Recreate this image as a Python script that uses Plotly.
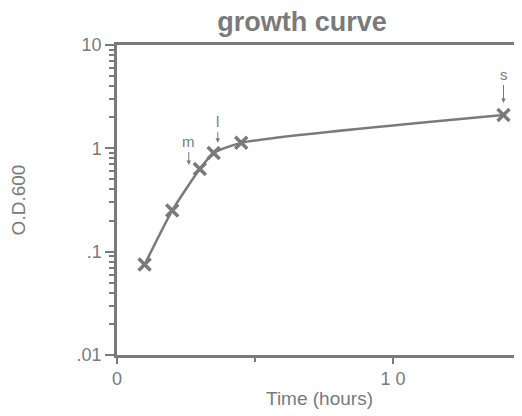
import numpy as np
import plotly.graph_objects as go

time_h = [1, 2, 3, 3.5, 4.5, 14]
od600 = [0.075, 0.25, 0.63, 0.90, 1.13, 2.1]

arrow_labels = ["m", "l", "s"]
arrow_x = [2.6, 3.65, 14]
arrow_y = [0.69, 1.13, 2.75]
arrow_len = [-23, -21, -28]

y_major = [0.01, 0.1, 1, 10]
y_major_text = [".01", ".1", "1", "10"]
y_minor = [m * d for d in [0.01, 0.1, 1] for m in range(2, 10)]

gray = "#7a7a7a"
fig = go.Figure()
fig.add_trace(go.Scatter(
    x=time_h, y=od600, mode="lines+markers",
    line=dict(color=gray, width=2.5, shape="spline", smoothing=0.6),
    marker=dict(symbol="x-thin", size=12, line=dict(color=gray, width=3.5)),
    showlegend=False, cliponaxis=False))

for lab, x, y, l in zip(arrow_labels, arrow_x, arrow_y, arrow_len):
    fig.add_annotation(x=x, y=np.log10(y), text=lab, showarrow=True,
                       ax=0, ay=l, arrowhead=2, arrowsize=0.9, arrowwidth=1,
                       arrowcolor=gray, font=dict(size=15, color=gray), standoff=0)

fig.update_layout(
    width=514, height=408,
    margin=dict(l=109, r=0, t=37, b=61, autoexpand=False),
    paper_bgcolor="white", plot_bgcolor="white",
    font=dict(family="Liberation Sans, Arial, sans-serif", color=gray, size=18),
    title=dict(text="<b>growth curve</b>", x=0.572, xanchor="center", y=0.966, yanchor="middle",
               font=dict(size=27, color=gray)),
    xaxis=dict(range=[0, 14.67], showline=True, linecolor=gray, linewidth=2.5, mirror=True,
               tickvals=[0, 10], ticktext=["0", "1 0"], ticks="outside", ticklen=6, tickwidth=2,
               tickcolor=gray, showgrid=False, zeroline=False,
               tickfont=dict(size=18, color=gray),
               minor=dict(tickvals=[5], ticks="outside", ticklen=4, tickwidth=1.5, tickcolor=gray),
               title=dict(text="Time (hours)", font=dict(size=19, color=gray), standoff=4)),
    yaxis=dict(type="log", range=[-2, 1], showline=True, linecolor=gray, linewidth=2.5,
               tickvals=y_major, ticktext=y_major_text, ticks="outside", ticklen=9, tickwidth=2,
               tickcolor=gray, showgrid=False, zeroline=False,
               tickfont=dict(size=18, color=gray),
               minor=dict(tickvals=y_minor, ticks="outside", ticklen=5, tickwidth=1.5, tickcolor=gray),
               title=dict(text="O.D.600", font=dict(size=19, color=gray), standoff=55)),
)
fig.write_html("out.html")
